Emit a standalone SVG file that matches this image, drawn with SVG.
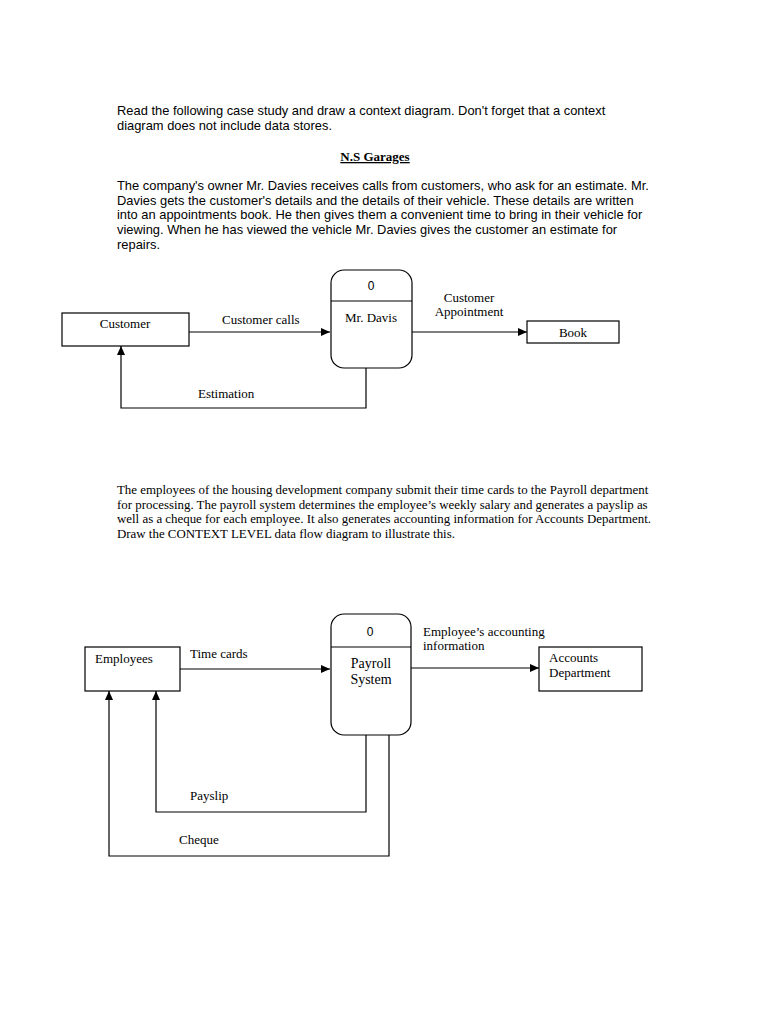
<svg xmlns="http://www.w3.org/2000/svg" width="768" height="1024" viewBox="0 0 768 1024">
<style>
.sans{font-family:"Liberation Sans",Arial,sans-serif;font-size:12.9px;fill:#000}
.serif{font-family:"Liberation Serif","Times New Roman",serif;font-size:12.9px;fill:#000}
.lbl{font-family:"Liberation Serif","Times New Roman",serif;font-size:13px;fill:#000}
.big{font-family:"Liberation Serif","Times New Roman",serif;font-size:14px;fill:#000}
.zero{font-family:"Liberation Sans",Arial,sans-serif;font-size:12px;fill:#000}
.box{fill:#fff;stroke:#000;stroke-width:1.2}
.line{fill:none;stroke:#000;stroke-width:1.2}
</style>
<defs>
<marker id="arr" markerWidth="10" markerHeight="8" refX="9" refY="4" orient="auto" markerUnits="userSpaceOnUse">
<path d="M0,0 L9,4 L0,8 Z" fill="#000"/>
</marker>
</defs>
<rect width="768" height="1024" fill="#fff"/>

<g id="text-intro">
<text class="sans" x="117" y="115">Read the following case study and draw a context diagram. Don't forget that a context</text>
<text class="sans" x="117" y="130">diagram does not include data stores.</text>
<text x="375" y="161" text-anchor="middle" font-family="Liberation Serif,Times New Roman,serif" font-size="13" font-weight="bold" text-decoration="underline">N.S Garages</text>
<text class="sans" x="117" y="190">The company's owner Mr. Davies receives calls from customers, who ask for an estimate. Mr.</text>
<text class="sans" x="117" y="205">Davies gets the customer's details and the details of their vehicle.  These details are written</text>
<text class="sans" x="117" y="219">into an appointments book. He then gives them a convenient time to bring in their vehicle for</text>
<text class="sans" x="117" y="234">viewing. When he has viewed the vehicle Mr. Davies gives the customer an estimate for</text>
<text class="sans" x="117" y="249">repairs.</text>
</g>

<g id="connectors1">
<line class="line" x1="189" y1="332" x2="330" y2="332" marker-end="url(#arr)"/>
<line class="line" x1="412" y1="332" x2="527" y2="332" marker-end="url(#arr)"/>
<polyline class="line" points="366,368 366,408 121,408 121,346" marker-end="url(#arr)"/>
<text class="lbl" x="222" y="324">Customer calls</text>
<text class="lbl" x="469" y="302" text-anchor="middle">Customer</text>
<text class="lbl" x="469" y="316" text-anchor="middle">Appointment</text>
<text class="lbl" x="198" y="398">Estimation</text>
</g>

<g id="customer">
<rect class="box" x="62" y="313" width="127" height="33"/>
<text class="lbl" x="125" y="328" text-anchor="middle">Customer</text>
</g>
<g id="mr-davis">
<rect class="box" x="331" y="270" width="81" height="98" rx="13" ry="13"/>
<line class="line" x1="331" y1="301" x2="412" y2="301"/>
<text class="zero" x="371" y="290" text-anchor="middle">0</text>
<text class="lbl" x="371" y="322" text-anchor="middle">Mr. Davis</text>
</g>
<g id="book">
<rect class="box" x="527" y="321" width="92" height="22"/>
<text class="lbl" x="573" y="337" text-anchor="middle">Book</text>
</g>

<g id="text-case2">
<text class="serif" x="117" y="494">The employees of the housing development company submit their time cards to the Payroll department</text>
<text class="serif" x="117" y="509">for processing. The payroll system determines the employee’s weekly salary and generates a payslip as</text>
<text class="serif" x="117" y="523">well as a cheque for each employee. It also generates accounting information for Accounts Department.</text>
<text class="serif" x="117" y="538">Draw the CONTEXT LEVEL data flow diagram to illustrate this.</text>
</g>

<g id="connectors2">
<line class="line" x1="180" y1="669" x2="330" y2="669" marker-end="url(#arr)"/>
<line class="line" x1="411" y1="668" x2="539" y2="668" marker-end="url(#arr)"/>
<polyline class="line" points="366,735 366,812 156,812 156,691" marker-end="url(#arr)"/>
<polyline class="line" points="389,735 389,856 109,856 109,691" marker-end="url(#arr)"/>
<text class="lbl" x="190" y="658">Time cards</text>
<text class="lbl" x="423" y="636">Employee’s accounting</text>
<text class="lbl" x="423" y="650">information</text>
<text class="lbl" x="190" y="800">Payslip</text>
<text class="lbl" x="179" y="844">Cheque</text>
</g>

<g id="employees">
<rect class="box" x="85" y="647" width="95" height="44"/>
<text class="lbl" x="95" y="663">Employees</text>
</g>
<g id="payroll-system">
<rect class="box" x="331" y="614" width="80" height="121" rx="13" ry="13"/>
<line class="line" x1="331" y1="647" x2="411" y2="647"/>
<text class="zero" x="370" y="636" text-anchor="middle">0</text>
<text class="big" x="371" y="668" text-anchor="middle">Payroll</text>
<text class="big" x="371" y="684" text-anchor="middle">System</text>
</g>
<g id="accounts-department">
<rect class="box" x="539" y="647" width="103" height="44"/>
<text class="lbl" x="549" y="662">Accounts</text>
<text class="lbl" x="549" y="677">Department</text>
</g>
</svg>
